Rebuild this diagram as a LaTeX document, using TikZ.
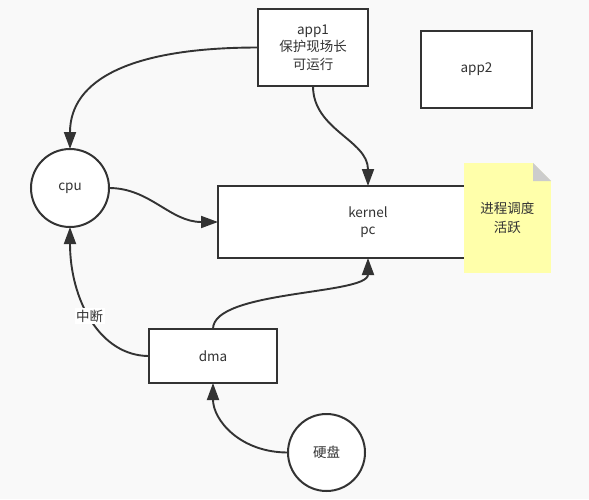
\documentclass[tikz,border=0pt]{standalone}
\usepackage{fontspec}
\setmainfont{Noto Sans CJK SC}
\usetikzlibrary{arrows.meta}
\definecolor{bgc}{HTML}{F9F9F9}
\definecolor{linec}{HTML}{333333}
\definecolor{textc}{HTML}{333333}
\definecolor{notec}{HTML}{FFFFAA}
\definecolor{foldc}{HTML}{CCCCCC}
\tikzset{
  base/.style={draw=linec, line width=2pt, fill=white, inner sep=0pt, outer sep=0pt, align=center, text=textc, font=\fontsize{13.5}{17.5}\selectfont},
  boxnode/.style={base, rectangle},
  circnode/.style={base, circle},
  notenode/.style={rectangle, fill=notec, inner sep=0pt, outer sep=0pt, align=center, text=textc, font=\fontsize{13.5}{18.5}\selectfont,
    path picture={
      \fill[bgc] ([xshift=-18pt]path picture bounding box.north east) -- (path picture bounding box.north east) -- ([yshift=-18pt]path picture bounding box.north east) -- cycle;
      \fill[foldc] ([xshift=-18pt]path picture bounding box.north east) -- ([xshift=-18pt,yshift=-18pt]path picture bounding box.north east) -- ([yshift=-18pt]path picture bounding box.north east) -- cycle;
    }},
  conn/.style={draw=linec, line width=1.9pt, -{Triangle[length=17pt,width=12pt]}},
  lbl/.style={fill=white, inner sep=1.5pt, text=textc, font=\fontsize{13.5}{16}\selectfont}
}
\begin{document}
\begin{tikzpicture}[x=1pt,y=-1pt]
\fill[bgc] (0,0) rectangle (589,499);
\useasboundingbox (0,0) rectangle (589,499);

\node[boxnode, minimum width=110pt, minimum height=77pt] (app1) at (313,47.5) {app1\\保护现场长\\可运行};
\node[boxnode, minimum width=111pt, minimum height=77pt] (app2) at (476.5,69.5) {app2};
\node[circnode, minimum size=78pt] (cpu) at (70,188) {cpu};
\node[boxnode, minimum width=300pt, minimum height=72pt] (kernel) at (368,222) {kernel\\pc};
\node[notenode, minimum width=87.5pt, minimum height=110pt] (note) at (507.25,218) {进程调度\\活跃};
\node[boxnode, minimum width=128pt, minimum height=54pt] (dma) at (213,356) {dma};
\node[circnode, minimum size=77pt] (disk) at (326.5,452.5) {硬盘};

\draw[conn] (app1.west) .. controls +(-128,0) and +(0,-69) .. (cpu.north);
\draw[conn] (app1.south) .. controls +(0,44) and +(0,-46) .. (kernel.north);
\draw[conn] (cpu.east) .. controls +(41,0) and +(-48,0) .. (kernel.west);
\draw[conn] (dma.west) .. controls +(-49,0) and +(0,73) .. node[lbl, pos=0.52] (intr) {中断} (cpu.south);
\draw[conn] (dma.north) .. controls +(0,-39) and +(0,37) .. (kernel.south);
\draw[conn] (disk.west) .. controls +(-48,0) and +(0,37) .. (dma.south);
\end{tikzpicture}
\end{document}
